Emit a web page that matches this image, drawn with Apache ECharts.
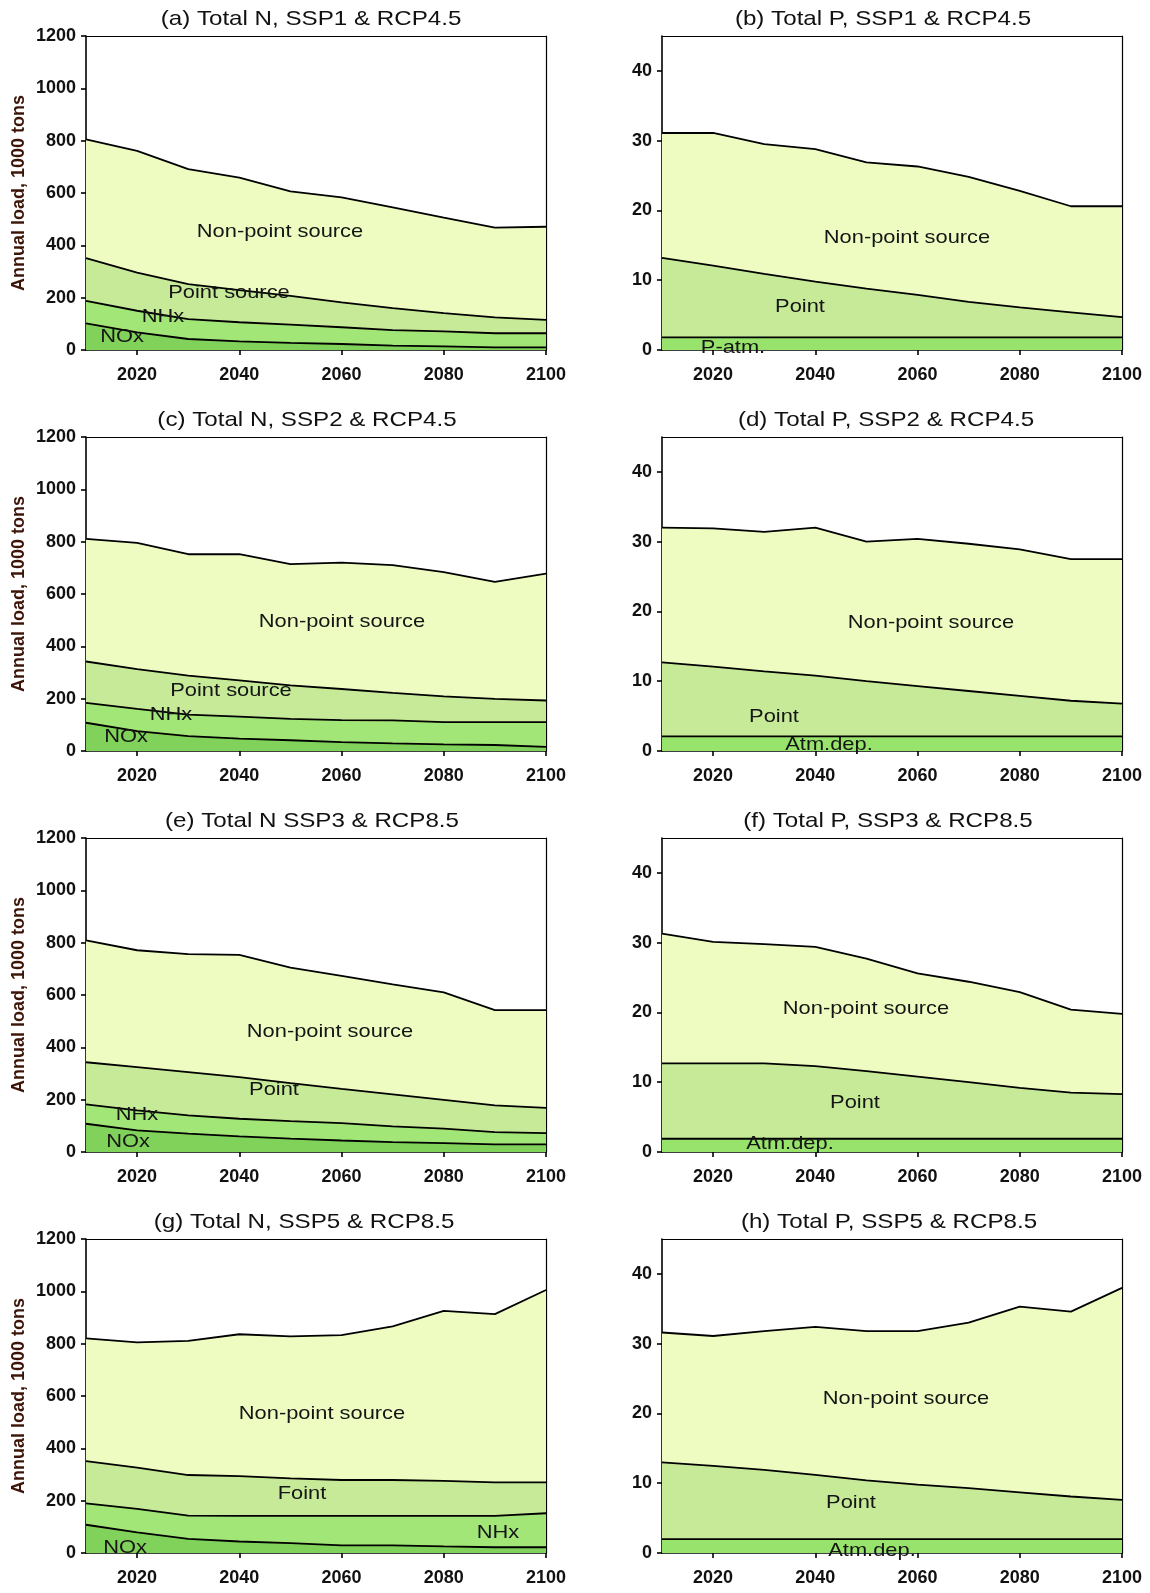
<!DOCTYPE html>
<html>
<head>
<meta charset="utf-8">
<script src="https://cdn.jsdelivr.net/npm/echarts@6/dist/echarts.min.js"></script>
<style>
html,body{margin:0;padding:0;background:#fff;}
#c{width:1150px;height:1593px;}
</style>
</head>
<body>
<div id="c"></div>
<script>
// ---------------- DATA ----------------
const years = [2010, 2020, 2030, 2040, 2050, 2060, 2070, 2080, 2090, 2100];
const xTickLabels = [2020, 2040, 2060, 2080, 2100];
const nTickLabels = [0, 200, 400, 600, 800, 1000, 1200];
const pTickLabels = [0, 10, 20, 30, 40];

// (a) Total N, SSP1 & RCP4.5  (1000 tons)
const a_NOx      = [102, 67, 42, 33, 27, 23, 17, 14, 10, 10];
const a_NHx      = [86, 83, 76, 73, 70, 64, 59, 57, 54, 54];
const a_Point    = [163, 146, 134, 123, 110, 95, 84, 70, 61, 51];
const a_NonPoint = [454, 465, 439, 430, 399, 401, 385, 365, 343, 356];

// (b) Total P, SSP1 & RCP4.5
const b_Atm      = [1.8, 1.8, 1.8, 1.8, 1.8, 1.8, 1.8, 1.8, 1.8, 1.8];
const b_Point    = [11.4, 10.3, 9.1, 8.0, 7.0, 6.1, 5.1, 4.3, 3.6, 2.9];
const b_NonPoint = [17.9, 19.0, 18.6, 19.0, 18.1, 18.4, 17.9, 16.7, 15.2, 15.9];

// (c) Total N, SSP2 & RCP4.5
const c_NOx      = [108, 76, 57, 47, 41, 34, 29, 25, 23, 16];
const c_NHx      = [76, 85, 82, 84, 82, 84, 88, 85, 87, 94];
const c_Point    = [158, 152, 149, 139, 128, 119, 105, 99, 89, 83];
const c_NonPoint = [469, 482, 464, 482, 463, 483, 488, 475, 447, 485];

// (d) Total P, SSP2 & RCP4.5
const d_Atm      = [2.1, 2.1, 2.1, 2.1, 2.1, 2.1, 2.1, 2.1, 2.1, 2.1];
const d_Point    = [10.6, 10.0, 9.3, 8.7, 7.9, 7.2, 6.5, 5.8, 5.1, 4.7];
const d_NonPoint = [19.3, 19.8, 20.0, 21.2, 20.0, 21.1, 21.1, 21.0, 20.3, 20.7];

// (e) Total N SSP3 & RCP8.5
const e_NOx      = [108, 83, 70, 60, 51, 44, 38, 34, 29, 29];
const e_NHx      = [74, 76, 70, 67, 67, 66, 60, 55, 47, 43];
const e_Point    = [161, 165, 165, 159, 145, 131, 122, 110, 102, 97];
const e_NonPoint = [466, 447, 451, 467, 442, 432, 421, 411, 364, 373];

// (f) Total P, SSP3 & RCP8.5
const f_Atm      = [1.9, 1.9, 1.9, 1.9, 1.9, 1.9, 1.9, 1.9, 1.9, 1.9];
const f_Point    = [10.8, 10.8, 10.8, 10.4, 9.7, 8.9, 8.1, 7.3, 6.6, 6.4];
const f_NonPoint = [18.6, 17.4, 17.1, 17.1, 16.1, 14.8, 14.4, 13.7, 11.9, 11.5];

// (g) Total N, SSP5 & RCP8.5
const g_NOx      = [108, 79, 54, 44, 38, 29, 29, 25, 22, 22];
const g_NHx      = [82, 90, 89, 98, 104, 113, 113, 117, 120, 130];
const g_Point    = [161, 157, 155, 152, 143, 137, 137, 134, 128, 118];
const g_NonPoint = [469, 479, 513, 542, 543, 554, 587, 649, 643, 735];

// (h) Total P, SSP5 & RCP8.5
const h_Atm      = [2.0, 2.0, 2.0, 2.0, 2.0, 2.0, 2.0, 2.0, 2.0, 2.0];
const h_Point    = [11.0, 10.5, 9.9, 9.2, 8.4, 7.8, 7.3, 6.7, 6.1, 5.6];
const h_NonPoint = [18.6, 18.6, 19.9, 21.2, 21.4, 22.0, 23.7, 26.6, 26.5, 30.4];

const titles = [
  '(a) Total N, SSP1 & RCP4.5', '(b) Total P, SSP1 & RCP4.5',
  '(c) Total N, SSP2 & RCP4.5', '(d) Total P, SSP2 & RCP4.5',
  '(e) Total N SSP3 & RCP8.5',  '(f) Total P, SSP3 & RCP8.5',
  '(g) Total N, SSP5 & RCP8.5', '(h) Total P, SSP5 & RCP8.5'
];
const yAxisName = 'Annual load, 1000 tons';

// ---------------- STYLE / LAYOUT ----------------
const FONT = '"Liberation Sans", Arial, sans-serif';
const COL = {
  NonPoint: '#eefcc1',
  Point: '#c6ea98',
  NHx: '#a2e677',
  NOx: '#80d25a',
  Atm: '#97e36b'
};
const colLeft = [86, 662];
const rowTop = [36, 437, 838, 1239];
const plotW = 460, plotH = 314;
const STRETCH = 1.15;

const panels = [
  { kind: 'N', layers: [['NOx', a_NOx], ['NHx', a_NHx], ['Point', a_Point], ['NonPoint', a_NonPoint]],
    titleX: 311, labels: [['Non-point source', 280, 232], ['Point source', 229, 293], ['NHx', 163, 317], ['NOx', 122, 337]] },
  { kind: 'P', layers: [['Atm', b_Atm], ['Point', b_Point], ['NonPoint', b_NonPoint]],
    titleX: 883, labels: [['Non-point source', 907, 238], ['Point', 800, 307], ['P-atm.', 733, 348]] },
  { kind: 'N', layers: [['NOx', c_NOx], ['NHx', c_NHx], ['Point', c_Point], ['NonPoint', c_NonPoint]],
    titleX: 307, labels: [['Non-point source', 342, 622], ['Point source', 231, 691], ['NHx', 171, 715], ['NOx', 126, 737]] },
  { kind: 'P', layers: [['Atm', d_Atm], ['Point', d_Point], ['NonPoint', d_NonPoint]],
    titleX: 886, labels: [['Non-point source', 931, 623], ['Point', 774, 717], ['Atm.dep.', 829, 745]] },
  { kind: 'N', layers: [['NOx', e_NOx], ['NHx', e_NHx], ['Point', e_Point], ['NonPoint', e_NonPoint]],
    titleX: 312, labels: [['Non-point source', 330, 1032], ['Point', 274, 1090], ['NHx', 137, 1115], ['NOx', 128, 1142]] },
  { kind: 'P', layers: [['Atm', f_Atm], ['Point', f_Point], ['NonPoint', f_NonPoint]],
    titleX: 888, labels: [['Non-point source', 866, 1009], ['Point', 855, 1103], ['Atm.dep.', 790, 1144]] },
  { kind: 'N', layers: [['NOx', g_NOx], ['NHx', g_NHx], ['Point', g_Point], ['NonPoint', g_NonPoint]],
    titleX: 304, labels: [['Non-point source', 322, 1414], ['Foint', 302, 1494], ['NHx', 498, 1533], ['NOx', 125, 1548]] },
  { kind: 'P', layers: [['Atm', h_Atm], ['Point', h_Point], ['NonPoint', h_NonPoint]],
    titleX: 889, labels: [['Non-point source', 906, 1399], ['Point', 851, 1503], ['Atm.dep.', 872, 1551]] }
];

// ---------------- BUILD OPTION ----------------
const grid = [], xAxis = [], yAxis = [], series = [], graphic = [];
const black = { color: '#000', width: 1.6 };
const plain = v => String(v);

panels.forEach((p, i) => {
  const col = i % 2, row = Math.floor(i / 2);
  grid.push({ left: colLeft[col], top: rowTop[row], width: plotW, height: plotH, containLabel: false });

  xAxis.push({
    type: 'value', gridIndex: i, min: 2010, max: 2100, position: 'bottom',
    axisLine: { show: true, onZero: false, lineStyle: black },
    axisTick: { show: true, customValues: xTickLabels, length: 5, lineStyle: black },
    axisLabel: { show: true, customValues: xTickLabels, formatter: plain, fontFamily: FONT, fontWeight: 'bold', fontSize: 18, color: '#111', margin: 16 },
    splitLine: { show: false }
  });
  xAxis.push({
    type: 'value', gridIndex: i, min: 0, max: 1, position: 'top',
    axisLine: { show: true, onZero: false, lineStyle: { color: '#000', width: 1.2 } },
    axisTick: { show: false }, axisLabel: { show: false }, splitLine: { show: false }
  });

  const isN = p.kind === 'N';
  const yTicks = isN ? nTickLabels : pTickLabels;
  const yLeft = {
    type: 'value', gridIndex: i, min: 0, max: isN ? 1200 : 45, position: 'left',
    axisLine: { show: true, onZero: false, lineStyle: black },
    axisTick: { show: true, customValues: yTicks, length: 5, lineStyle: black },
    axisLabel: { show: true, customValues: yTicks, formatter: plain, fontFamily: FONT, fontWeight: 'bold', fontSize: 18, color: '#111', margin: 10 },
    splitLine: { show: false }
  };
  if (isN) {
    Object.assign(yLeft, {
      name: yAxisName, nameLocation: 'middle', nameGap: 58, nameRotate: 90,
      nameTextStyle: { fontFamily: FONT, fontWeight: 'bold', fontSize: 18, color: '#3c1508' }
    });
  }
  yAxis.push(yLeft);
  yAxis.push({
    type: 'value', gridIndex: i, min: 0, max: 1, position: 'right',
    axisLine: { show: true, onZero: false, lineStyle: { color: '#000', width: 1.2 } },
    axisTick: { show: false }, axisLabel: { show: false }, splitLine: { show: false }
  });

  // cumulative tops of each layer (stack built here, drawn from the top layer down)
  const nL = p.layers.length;
  const cum = years.map(() => 0);
  const tops = p.layers.map(([key, vals]) => {
    vals.forEach((v, j) => { cum[j] += v; });
    return [key, cum.slice()];
  });
  tops.forEach(([key, top], k) => {
    series.push({
      name: key + '_' + i,
      type: 'line',
      xAxisIndex: 2 * i, yAxisIndex: 2 * i,
      data: years.map((yr, j) => [yr, +top[j].toFixed(2)]),
      symbol: 'none', showSymbol: false, smooth: false,
      lineStyle: { color: '#000', width: 1.8 },
      areaStyle: { color: COL[key], opacity: 1, origin: 'start' },
      z: 2 + (nL - k),
      silent: true, animation: false
    });
  });

  graphic.push({
    type: 'text', x: p.titleX, y: rowTop[row] - 17, scaleX: STRETCH, z: 100, silent: true,
    style: { text: titles[i], x: 0, y: 0, align: 'center', verticalAlign: 'middle',
      font: '21px ' + FONT, fill: '#111' }
  });
  p.labels.forEach(([txt, lx, ly]) => {
    graphic.push({
      type: 'text', x: lx, y: ly, scaleX: STRETCH, z: 100, silent: true,
      style: { text: txt, x: 0, y: 0, align: 'center', verticalAlign: 'middle',
        font: '19px ' + FONT, fill: '#151515' }
    });
  });
});

const chart = echarts.init(document.getElementById('c'), null, { renderer: 'canvas', width: 1150, height: 1593 });
chart.setOption({
  backgroundColor: '#fff',
  animation: false,
  grid, xAxis, yAxis, series,
  graphic: { elements: graphic }
});
</script>
</body>
</html>
